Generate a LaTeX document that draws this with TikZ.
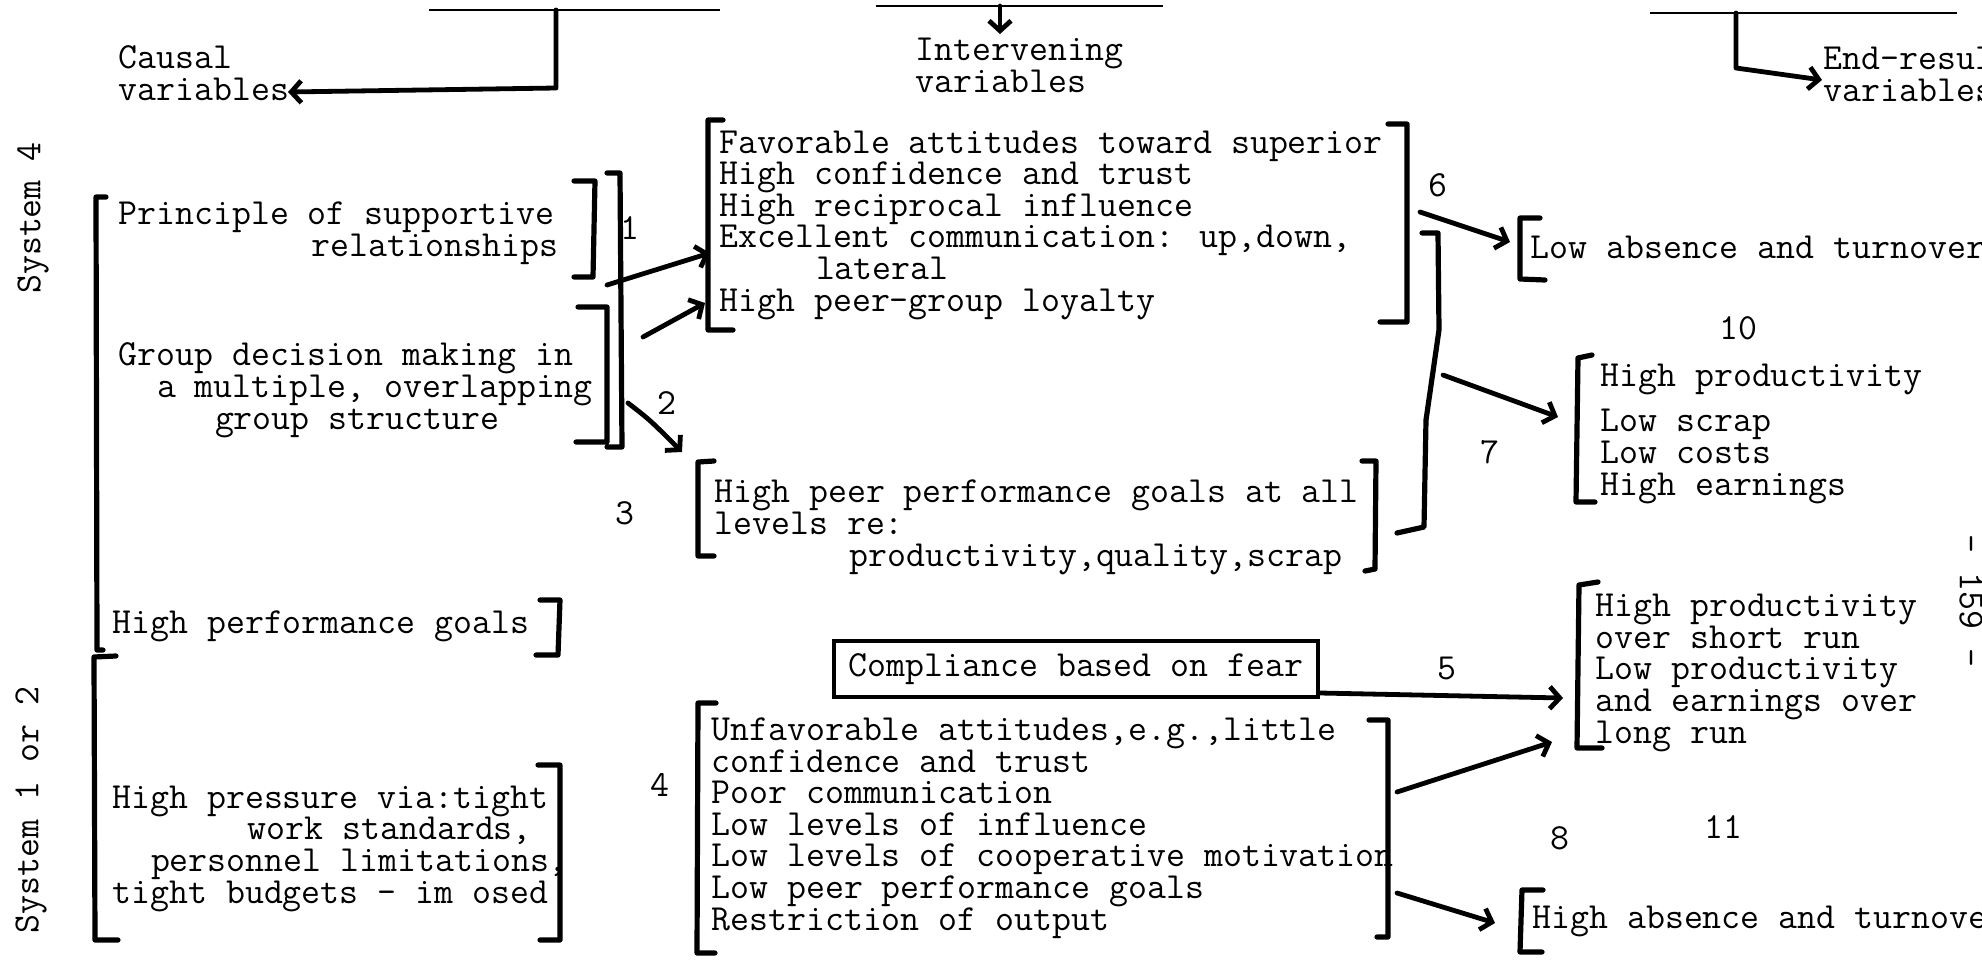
\documentclass[tikz,border=0pt]{standalone}
\usepackage{fontspec}
\usetikzlibrary{arrows.meta}
\newcommand\ind[1]{\hspace*{#1\dimexpr0.525em\relax}}
\begin{document}
\begin{tikzpicture}[x=0.5pt,y=-0.5pt,
  txt/.style={anchor=base west,align=left,inner sep=0pt,font=\ttfamily\fontsize{18.4}{15.8}\selectfont},
  num/.style={inner sep=0pt,font=\ttfamily\fontsize{18.4}{15.8}\selectfont},
  brk/.style={line width=2.6pt,line cap=round,line join=round},
  arr/.style={line width=2.4pt,line cap=round,line join=round,-{Straight Barb[length=5pt,width=11pt]}},
  rule/.style={line width=1.3pt}]
\useasboundingbox (0,0) rectangle (1982,959);
% headings (multi-line nodes sit on their last line)
\node[txt] (causal) at (118,100) {Causal\\variables};
\node[txt] (interv) at (915,92) {Intervening\\variables};
\node[txt] (endres) at (1823,101) {End-result\\variables};
\draw[rule] (429,10) -- (720,10) (876,6) -- (1163,6) (1650,13) -- (1957,13);
\coordinate (topl) at (556,10);
\coordinate (topm) at (1000,6);
\coordinate (topr) at (1736,13);
\coordinate (cv) at (288,92);
\coordinate (iv) at (1000,34);
\coordinate (ev) at (1822,80);
\draw[arr] (topl) -- (556,88) -- (cv);
\draw[arr] (topm) -- (iv);
\draw[arr] (topr) -- (1736,68) -- (ev);
% system labels
\node[num,rotate=90] (sysfour) at (33,218) {System 4};
\node[num,rotate=90] (sysone) at (31,810) {System 1 or 2};
\node[num,rotate=-90] (pg) at (1971,601) {- 159 -};
% causal variables
\node[txt] (princ) at (118,256) {Principle of supportive\\\ind{10}relationships};
\node[txt] (group) at (118,429) {Group decision making in\\\ind{2}a multiple, overlapping\\\ind{5}group structure};
\node[txt] (hperf) at (112,633) {High performance goals};
\node[txt] (press) at (112,903) {High pressure via:tight\\\ind{7}work standards,\\\ind{2}personnel limitations,\\tight budgets - im osed};
% intervening variables
\node[txt] (favor) at (719,311) {Favorable attitudes toward superior\\High confidence and trust\\High reciprocal influence\\Excellent communication: up,down,\\\ind{5}lateral\\High peer-group loyalty};
\node[txt] (peer) at (714,566) {High peer performance goals at all\\levels re:\\\ind{7}productivity,quality,scrap};
\node[draw,line width=2pt,minimum width=242pt,minimum height=28pt,inner sep=0pt,
      font=\ttfamily\fontsize{18.4}{15.8}\selectfont] (comply) at (1076,669) {Compliance based on fear};
\node[txt] (unfav) at (711,930) {Unfavorable attitudes,e.g.,little\\confidence and trust\\Poor communication\\Low levels of influence\\Low levels of cooperative motivation\\Low peer performance goals\\Restriction of output};
% end-result variables
\node[txt] (lowabs) at (1530,258) {Low absence and turnover};
\node[txt] (hprod) at (1600,495) {High productivity\\[7pt]Low scrap\\Low costs\\High earnings};
\node[txt] (short) at (1595,743) {High productivity\\over short run\\Low productivity\\and earnings over\\long run};
\node[txt] (highabs) at (1532,928) {High absence and turnover};
% numbers
\node[num] (n1) at (630,228) {1};
\node[num] (n2) at (667,403) {2};
\node[num] (n3) at (625,513) {3};
\node[num] (n4) at (660,785) {4};
\node[num] (n5) at (1447,668) {5};
\node[num] (n6) at (1438,185) {6};
\node[num] (n7) at (1490,452) {7};
\node[num] (n8) at (1560,838) {8};
\node[num] (n10) at (1738,328) {10};
\node[num] (n11) at (1723,827) {11};
% brackets
\draw[brk] (106,197) -- (96,197) -- (97,650) -- (103,650)
           (116,656) -- (94,657) -- (95,940) -- (118,940)
           (574,181) -- (595,181) -- (593,277) -- (574,277)
           (607,173) -- (620,173) -- (622,447) -- (607,447)
           (578,307) -- (607,307) -- (607,442) -- (576,442)
           (540,600) -- (560,600) -- (558,655) -- (536,655)
           (538,765) -- (560,765) -- (560,940) -- (540,940)
           (723,120) -- (708,120) -- (708,330) -- (733,330)
           (1388,124) -- (1407,124) -- (1407,322) -- (1380,322)
           (1422,233) -- (1438,233) -- (1439,330) -- (1426,420) -- (1424,527) -- (1397,533)
           (714,461) -- (698,462) -- (698,556) -- (714,556)
           (1362,461) -- (1376,461) -- (1375,569) -- (1365,571)
           (716,703) -- (698,703) -- (697,953) -- (715,953)
           (1369,720) -- (1388,720) -- (1388,937) -- (1377,937)
           (1540,218) -- (1520,218) -- (1520,279) -- (1545,280)
           (1592,355) -- (1578,358) -- (1576,502) -- (1595,502)
           (1598,582) -- (1579,585) -- (1577,748) -- (1602,748)
           (1543,890) -- (1522,890) -- (1520,952) -- (1542,952);
% arrows
\coordinate (p1) at (607,285);
\coordinate (f1) at (710,253);
\coordinate (p1b) at (643,337);
\coordinate (f2) at (705,303);
\coordinate (g2) at (628,403);
\coordinate (pe2) at (682,452);
\coordinate (r6) at (1420,212);
\coordinate (l6) at (1510,242);
\coordinate (r7) at (1443,375);
\coordinate (l7) at (1558,417);
\coordinate (l5) at (1563,698);
\coordinate (u9) at (1397,792);
\coordinate (l9) at (1552,742);
\coordinate (u8) at (1397,893);
\coordinate (l8) at (1495,923);
\draw[arr] (p1) -- (f1);
\draw[arr] (p1b) -- (f2);
\draw[arr] (g2) .. controls (650,420) .. (pe2);
\draw[arr] (r6) -- (l6);
\draw[arr] (r7) -- (l7);
\draw[arr] ([yshift=3pt]comply.south east) -- (l5);
\draw[arr] (u9) -- (l9);
\draw[arr] (u8) -- (l8);
\end{tikzpicture}
\end{document}
